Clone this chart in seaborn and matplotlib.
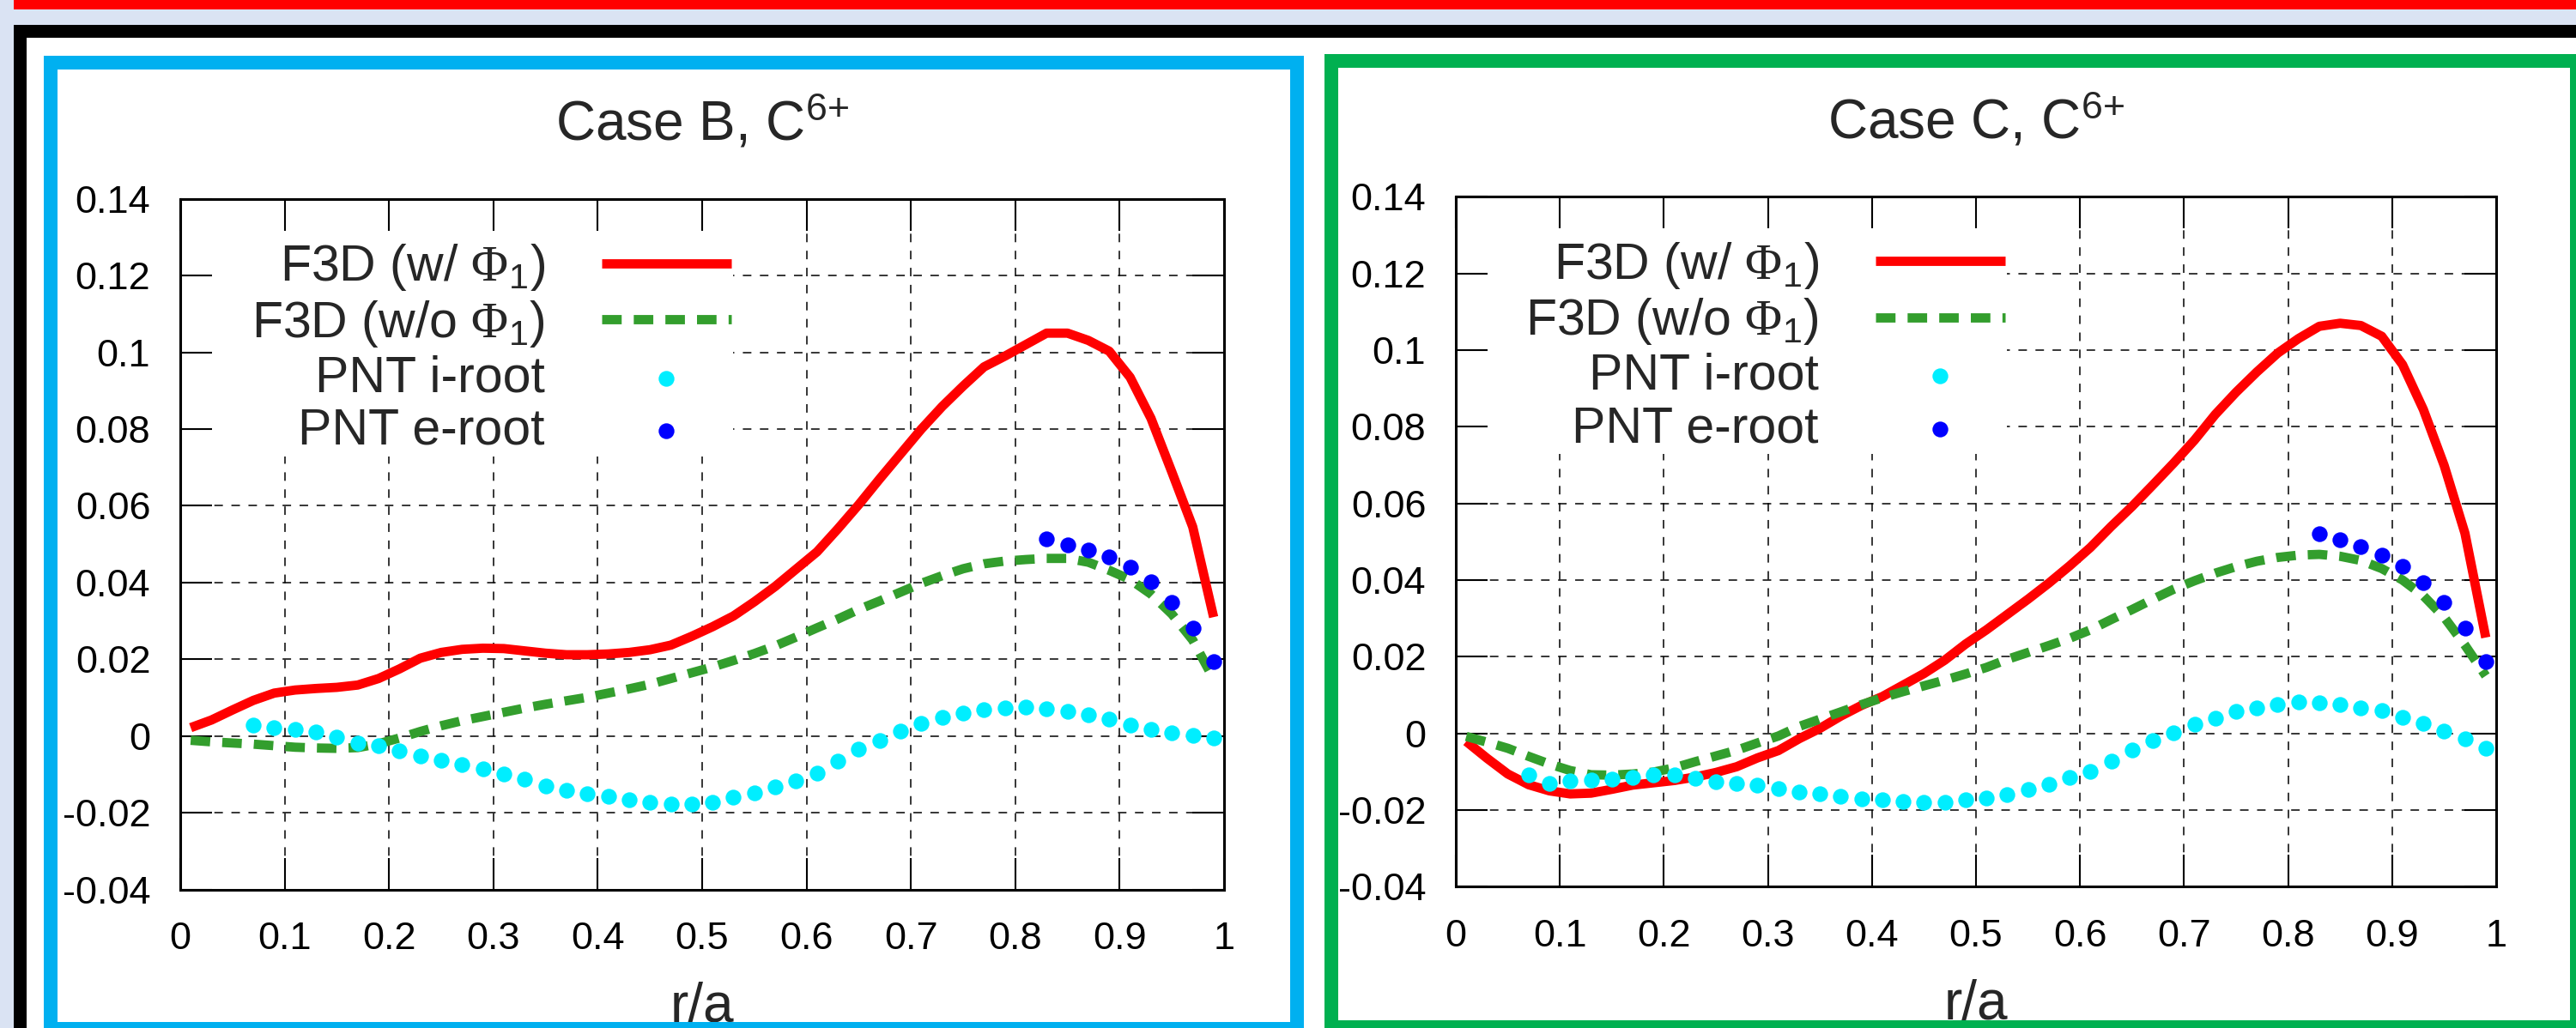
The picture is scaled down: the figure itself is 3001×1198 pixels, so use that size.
import matplotlib
matplotlib.use("Agg")
import matplotlib.pyplot as plt
from matplotlib.patches import Rectangle
import seaborn as sns

# radial grid of the F3D curves and of the PNT points
r_f3d = [0.01, 0.03, 0.05, 0.07, 0.09, 0.11, 0.13, 0.15, 0.17, 0.19,
         0.21, 0.23, 0.25, 0.27, 0.29, 0.31, 0.33, 0.35, 0.37, 0.39,
         0.41, 0.43, 0.45, 0.47, 0.49, 0.51, 0.53, 0.55, 0.57, 0.59,
         0.61, 0.63, 0.65, 0.67, 0.69, 0.71, 0.73, 0.75, 0.77, 0.79,
         0.81, 0.83, 0.85, 0.87, 0.89, 0.91, 0.93, 0.95, 0.97, 0.99]
r_pnt_i = [0.07, 0.09, 0.11, 0.13, 0.15, 0.17, 0.19, 0.21, 0.23, 0.25,
           0.27, 0.29, 0.31, 0.33, 0.35, 0.37, 0.39, 0.41, 0.43, 0.45,
           0.47, 0.49, 0.51, 0.53, 0.55, 0.57, 0.59, 0.61, 0.63, 0.65,
           0.67, 0.69, 0.71, 0.73, 0.75, 0.77, 0.79, 0.81, 0.83, 0.85,
           0.87, 0.89, 0.91, 0.93, 0.95, 0.97, 0.99]
r_pnt_e = [0.83, 0.85, 0.87, 0.89, 0.91, 0.93, 0.95, 0.97, 0.99]

# Case B
b_f3d_w = [0.0022, 0.0042, 0.0068, 0.0093, 0.0112, 0.0120, 0.0124, 0.0127, 0.0133, 0.0150,
           0.0175, 0.0203, 0.0218, 0.0226, 0.0229, 0.0228, 0.0222, 0.0216, 0.0212, 0.0212,
           0.0214, 0.0218, 0.0225, 0.0237, 0.0260, 0.0285, 0.0313, 0.0350, 0.0390, 0.0435,
           0.0480, 0.0540, 0.0603, 0.0670, 0.0735, 0.0800, 0.0859, 0.0912, 0.0962, 0.0990,
           0.1020, 0.1050, 0.1050, 0.1031, 0.1003, 0.0935, 0.0828, 0.0688, 0.0545, 0.0310]
b_f3d_wo = [-0.0011, -0.0015, -0.0018, -0.0021, -0.0025, -0.0029, -0.0031, -0.0032, -0.0030, -0.0020,
            -0.0005, 0.0012, 0.0027, 0.0040, 0.0051, 0.0062, 0.0073, 0.0083, 0.0092, 0.0101,
            0.0112, 0.0123, 0.0135, 0.0150, 0.0165, 0.0180, 0.0197, 0.0215, 0.0235, 0.0258,
            0.0282, 0.0305, 0.0330, 0.0352, 0.0375, 0.0398, 0.0418, 0.0436, 0.0449, 0.0456,
            0.0460, 0.0463, 0.0463, 0.0453, 0.0432, 0.0408, 0.0370, 0.0318, 0.0250, 0.0149]
b_pnt_i = [0.0029, 0.0021, 0.0018, 0.0010, -0.0003, -0.0018, -0.0026, -0.0038, -0.0051, -0.0064,
           -0.0074, -0.0085, -0.0099, -0.0113, -0.0129, -0.0141, -0.0150, -0.0158, -0.0166, -0.0172,
           -0.0176, -0.0176, -0.0172, -0.0160, -0.0147, -0.0133, -0.0116, -0.0097, -0.0066, -0.0034,
           -0.0011, 0.0014, 0.0033, 0.0048, 0.0060, 0.0069, 0.0073, 0.0075, 0.0071, 0.0065,
           0.0056, 0.0044, 0.0029, 0.0018, 0.0008, 0.0002, -0.0004]
b_pnt_e = [0.0514, 0.0499, 0.0485, 0.0466, 0.0441, 0.0401, 0.0349, 0.0282, 0.0195]

# Case C
c_f3d_w = [-0.0021, -0.0065, -0.0106, -0.0134, -0.0150, -0.0158, -0.0156, -0.0146, -0.0135, -0.0129,
           -0.0123, -0.0114, -0.0102, -0.0087, -0.0064, -0.0045, -0.0014, 0.0013, 0.0045, 0.0073,
           0.0096, 0.0126, 0.0156, 0.0191, 0.0233, 0.0270, 0.0310, 0.0350, 0.0392, 0.0437,
           0.0485, 0.0540, 0.0592, 0.0648, 0.0705, 0.0765, 0.0832, 0.0890, 0.0943, 0.0992,
           0.1030, 0.1062, 0.1070, 0.1064, 0.1036, 0.0962, 0.0845, 0.0699, 0.0522, 0.0250]
c_f3d_wo = [-0.0008, -0.0023, -0.0039, -0.0060, -0.0080, -0.0097, -0.0108, -0.0109, -0.0106, -0.0101,
            -0.0090, -0.0074, -0.0059, -0.0044, -0.0025, -0.0007, 0.0018, 0.0037, 0.0056, 0.0075,
            0.0093, 0.0109, 0.0124, 0.0139, 0.0155, 0.0172, 0.0193, 0.0211, 0.0229, 0.0248,
            0.0270, 0.0297, 0.0323, 0.0350, 0.0376, 0.0398, 0.0418, 0.0435, 0.0449, 0.0459,
            0.0465, 0.0467, 0.0462, 0.0451, 0.0430, 0.0400, 0.0359, 0.0303, 0.0230, 0.0150]
c_pnt_i = [-0.0108, -0.0131, -0.0125, -0.0122, -0.0120, -0.0116, -0.0109, -0.0108, -0.0118, -0.0126,
           -0.0131, -0.0135, -0.0145, -0.0152, -0.0158, -0.0164, -0.0170, -0.0173, -0.0177, -0.0179,
           -0.0179, -0.0174, -0.0168, -0.0160, -0.0147, -0.0133, -0.0116, -0.0099, -0.0072, -0.0044,
           -0.0019, 0.0002, 0.0024, 0.0040, 0.0057, 0.0067, 0.0076, 0.0082, 0.0080, 0.0076,
           0.0067, 0.0059, 0.0042, 0.0025, 0.0007, -0.0015, -0.0038]
c_pnt_e = [0.0521, 0.0505, 0.0487, 0.0465, 0.0436, 0.0394, 0.0341, 0.0274, 0.0187]

x_ticks = [0, 0.1, 0.2, 0.3, 0.4, 0.5, 0.6, 0.7, 0.8, 0.9, 1.0]
x_ticklabels = ["0", "0.1", "0.2", "0.3", "0.4", "0.5", "0.6", "0.7", "0.8", "0.9", "1"]
y_ticks = [-0.04, -0.02, 0, 0.02, 0.04, 0.06, 0.08, 0.10, 0.12, 0.14]
y_ticklabels = ["-0.04", "-0.02", "0", "0.02", "0.04", "0.06", "0.08", "0.1", "0.12", "0.14"]

labels = [r"F3D (w/ $\mathtt{\Phi}_1$)", r"F3D (w/o $\mathtt{\Phi}_1$)", "PNT i-root", "PNT e-root"]

sns.set_style("ticks")
plt.rcParams["font.family"] = ["Liberation Sans", "DejaVu Sans"]
plt.rcParams["mathtext.fontset"] = "custom"
plt.rcParams["mathtext.rm"] = "Liberation Sans"
plt.rcParams["mathtext.it"] = "Liberation Sans:italic"
plt.rcParams["mathtext.tt"] = "Liberation Serif"
plt.rcParams["axes.unicode_minus"] = False

W, H = 3001, 1198
fig = plt.figure(figsize=(W / 100, H / 100), dpi=100)
fig.patch.set_facecolor("#dae3f3")


def px_rect(x0, y0, x1, y1, **kw):
    # rectangle given in pixels from the top-left corner
    return Rectangle((x0 / W, 1 - y1 / H), (x1 - x0) / W, (y1 - y0) / H,
                     transform=fig.transFigure, **kw)


# slide background
fig.add_artist(px_rect(16, 0, W, 11, facecolor="#ff0000", edgecolor="none", zorder=-5))
fig.add_artist(px_rect(16, 29, W, 44, facecolor="black", edgecolor="none", zorder=-5))
fig.add_artist(px_rect(16, 29, 31, H, facecolor="black", edgecolor="none", zorder=-5))
fig.add_artist(px_rect(31, 44, W, H, facecolor="white", edgecolor="none", zorder=-5))


def draw_panel(ax, title, f3d_w, f3d_wo, pnt_i, pnt_e):
    sns.lineplot(x=r_f3d, y=f3d_w, ax=ax, color="#ff0000", linewidth=7.8,
                 solid_capstyle="butt", errorbar=None, label=labels[0], zorder=3)
    sns.lineplot(x=r_f3d, y=f3d_wo, ax=ax, color="#339e2d", linewidth=7.8,
                 linestyle=(0, (2.1, 1.3)), errorbar=None, label=labels[1], zorder=3)
    sns.scatterplot(x=r_pnt_i, y=pnt_i, ax=ax, color="#00eeff", s=175,
                    linewidth=0, label=labels[2], zorder=4)
    sns.scatterplot(x=r_pnt_e, y=pnt_e, ax=ax, color="#0000ff", s=175,
                    linewidth=0, label=labels[3], zorder=4)

    ax.set_xlim(0, 1)
    ax.set_ylim(-0.04, 0.14)
    ax.set_xticks(x_ticks, x_ticklabels)
    ax.set_yticks(y_ticks, y_ticklabels)
    ax.tick_params(direction="in", length=26.6, width=1.5, top=True, right=True,
                   labelsize=32.5, pad=25, colors="black")
    ax.tick_params(axis="x", pad=27)
    for sp in ax.spines.values():
        sp.set_visible(True)
        sp.set_linewidth(2.2)
        sp.set_color("black")
    ax.set_facecolor("white")

    # gnuplot-style dashed grid, hidden behind the opaque key box
    ax.grid(False)
    for xv in x_ticks[1:-1]:
        ax.axvline(xv, color="black", linewidth=1.1, linestyle=(0, (6.5, 6.5)), zorder=1)
    for yv in y_ticks[1:-1]:
        ax.axhline(yv, color="black", linewidth=1.1, linestyle=(0, (6.5, 6.5)), zorder=1)
    ax.add_patch(Rectangle((0, 0.627), 0.53, 0.328, transform=ax.transAxes,
                           facecolor="white", edgecolor="none", zorder=1.5))
    ax.xaxis.set_zorder(1.8)
    ax.yaxis.set_zorder(1.8)

    ax.set_title(title, fontsize=46, pad=49)
    ax.set_xlabel("r/a", fontsize=46, labelpad=21)
    ax.set_ylabel("")

    handles, _ = ax.get_legend_handles_labels()
    ax.legend(handles, labels, loc="upper right", bbox_to_anchor=(0.528, 0.937),
              borderaxespad=0, markerfirst=False, fontsize=42.5, frameon=False,
              borderpad=0, labelspacing=0.11, handlelength=2.56, handletextpad=1.12)


ax_b = fig.add_axes([210 / W, 1 - 1036.7 / H, 1216 / W, 805 / H])
draw_panel(ax_b, r"Case B, C$^{6{+}}$", b_f3d_w, b_f3d_wo, b_pnt_i, b_pnt_e)

ax_c = fig.add_axes([1696 / W, 1 - 1033.3 / H, 1212 / W, 804 / H])
draw_panel(ax_c, r"Case C, C$^{6{+}}$", c_f3d_w, c_f3d_wo, c_pnt_i, c_pnt_e)

# coloured frames of the slide, drawn over the plots
fig.add_artist(px_rect(59, 73, 1511, 1199, fill=False, edgecolor="#00b0f0",
                       linewidth=11.52, zorder=10))
fig.add_artist(px_rect(1551, 71, 3002, 1197, fill=False, edgecolor="#00b050",
                       linewidth=11.52, zorder=10))

fig.savefig("out.png", dpi=100)
